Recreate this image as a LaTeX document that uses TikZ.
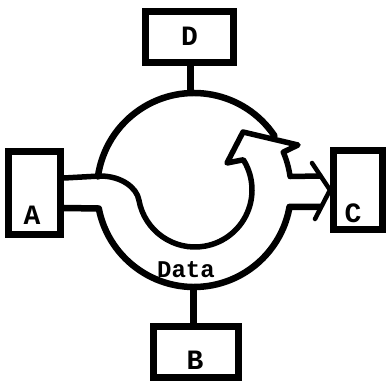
\documentclass[tikz,border=0pt]{standalone}
\usepackage{fontspec}
\newfontfamily\typefont{Liberation Mono}
\begin{document}
\begin{tikzpicture}[x=1pt,y=1pt,
  box/.style={draw=black, line width=7pt, inner sep=0pt, fill=white},
  lbl/.style={font=\typefont\bfseries\fontsize{28}{28}\selectfont},
  ringline/.style={draw=black, line width=6.5pt, line join=round, line cap=round},
  pipe/.style={draw=black, line width=5.5pt, line join=round, line cap=round},
  headline/.style={draw=black, line width=4.5pt, line join=round, line cap=round},
  link/.style={draw=black, line width=6.5pt}]
\useasboundingbox (0,0) rectangle (388,383);
% ring and inner loop (as named circles, not drawn)
\node[circle, draw=none, minimum size=194pt, inner sep=0pt, outer sep=0pt] (ring) at (194,193) {};
\node[circle, draw=none, minimum size=114pt, inner sep=0pt, outer sep=0pt] (loop) at (195,193) {};
% boxes
\node[box, minimum width=88pt, minimum height=51pt, label={[lbl,yshift=1pt]center:D}] (d) at (189.5,346) {};
\node[box, minimum width=52pt, minimum height=83pt, label={[lbl,xshift=-2.5pt,yshift=-22pt]center:A}] (a) at (34.5,190) {};
\node[box, minimum width=49pt, minimum height=79pt, label={[lbl,xshift=-5pt,yshift=-23pt]center:C}] (c) at (358,193) {};
\node[box, minimum width=85pt, minimum height=51pt, label={[lbl,xshift=-1pt,yshift=-8pt]center:B}] (b) at (196,31) {};
% links to D and B
\draw[link] ([xshift=1pt]d.south) -- ([xshift=1pt]d.south |- ring.north);
\draw[link] ([xshift=-2.5pt]b.north) -- ([xshift=-2.5pt]b.north |- ring.south);
% ring parts
\draw[ringline] (ring.34) arc[start angle=34, end angle=172, radius=97pt];
\draw[ringline] (a.east |- 0,175) -- (ring.191) arc[start angle=191, end angle=350, radius=97pt] -- (320,176);
% flow from A round the loop to the arrow head
\draw[pipe] (a.east |- 0,205) -- (100,207) .. controls (122,207) and (136.8,194.9) .. (loop.190)
  arc[start angle=190, end angle=392, radius=57pt]
  -- (227,220) -- (243,251) -- (298,238) -- (ring.23)
  arc[start angle=23, end angle=8, radius=97pt] -- (320,207);
% arrow head at C
\draw[headline] (312,220) -- (c.west) -- (315,164);
% data label
\node[font=\typefont\bfseries\fontsize{24}{24}\selectfont, anchor=base, inner sep=0pt] (data) at (186,105) {Data};
\end{tikzpicture}
\end{document}
